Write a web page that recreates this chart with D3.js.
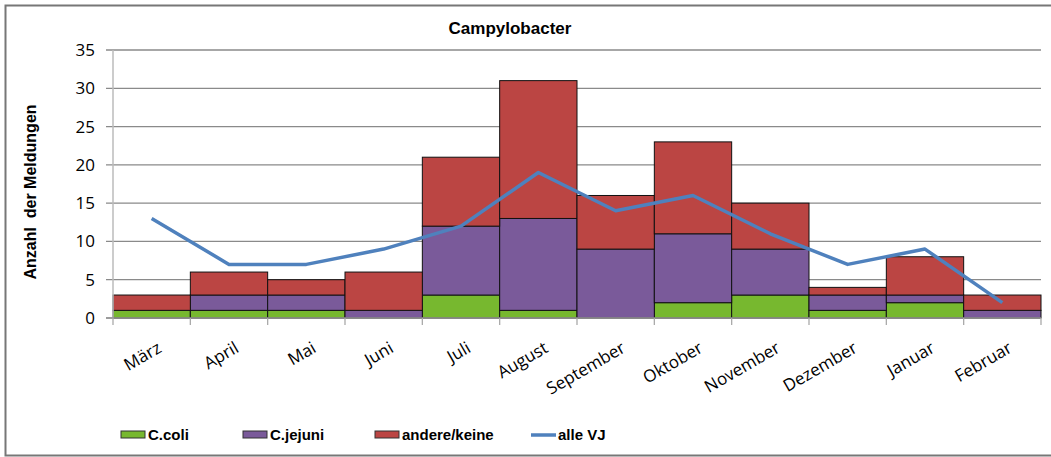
<!DOCTYPE html>
<html>
<head>
<meta charset="utf-8">
<script src="https://cdn.jsdelivr.net/npm/d3@7"></script>
<style>
  body{margin:0;background:#fff;}
  svg text{fill:#000;white-space:pre;}
</style>
</head>
<body>
<div id="container"></div>
<script>
const months=['März','April','Mai','Juni','Juli','August','September','Oktober','November','Dezember','Januar','Februar'];
const coli=[1,1,1,0,3,1,0,2,3,1,2,0];
const jejuni=[0,2,2,1,9,12,9,9,6,2,1,1];
const andere=[2,3,2,5,9,18,7,12,6,1,5,2];
const alleVJ=[13,7,7,9,12,19,14,16,11,7,9,2];
const yTicks=[0,5,10,15,20,25,30,35];

const width=1051, height=457;
const plotLeft=113, plotRight=1041, plotTop=50, plotBottom=318;

const colors={coli:'#77b82f',jejuni:'#7a5a9a',andere:'#bb4543',line:'#4f81bd'};

const svg=d3.select('#container').append('svg')
   .attr('width',width).attr('height',height);

// outer frame
svg.append('rect').attr('x',5.5).attr('y',5.5).attr('width',1060).attr('height',450)
   .attr('fill','none').attr('stroke','#777').attr('stroke-width',2);

const x=d3.scaleBand().domain(months).range([plotLeft,plotRight]).padding(0);
const y=d3.scaleLinear().domain([0,35]).range([plotBottom,plotTop]);

// grid
svg.append('g').selectAll('line').data(yTicks).enter().append('line')
   .attr('x1',plotLeft-7).attr('x2',plotRight)
   .attr('y1',d=>y(d)).attr('y2',d=>y(d))
   .attr('stroke','#8a8a8a').attr('stroke-width',1.3);

// y tick labels
svg.append('g').selectAll('text').data(yTicks).enter().append('text')
   .attr('x',95).attr('y',d=>y(d)).attr('dy','0.35em')
   .attr('text-anchor','end')
   .style('font-family','"Open Sans", sans-serif').style('font-size','17px')
   .text(d=>d);

// stacked bars
const data=months.map((m,i)=>({month:m,coli:coli[i],jejuni:jejuni[i],andere:andere[i]}));
const stack=d3.stack().keys(['coli','jejuni','andere'])(data);

svg.append('g').selectAll('g').data(stack).enter().append('g')
   .attr('fill',s=>colors[s.key])
   .selectAll('rect').data(s=>s).enter().append('rect')
   .attr('x',d=>x(d.data.month))
   .attr('width',x.bandwidth())
   .attr('y',d=>y(d[1]))
   .attr('height',d=>y(d[0])-y(d[1]))
   .attr('stroke',d=>d[1]>d[0]?'#111':'none')
   .attr('stroke-width',1);

// axes lines
svg.append('line').attr('x1',plotLeft).attr('x2',plotLeft).attr('y1',plotTop).attr('y2',plotBottom)
   .attr('stroke','#bbb').attr('stroke-width',1.5);
svg.append('line').attr('x1',plotLeft-7).attr('x2',plotRight).attr('y1',plotBottom).attr('y2',plotBottom)
   .attr('stroke','#999').attr('stroke-width',1.5);
svg.append('g').selectAll('line').data(d3.range(months.length+1)).enter().append('line')
   .attr('x1',i=>plotLeft+i*x.step()).attr('x2',i=>plotLeft+i*x.step())
   .attr('y1',plotBottom).attr('y2',plotBottom+7)
   .attr('stroke','#aaa').attr('stroke-width',1.3);

// line
const line=d3.line().x((d,i)=>x(months[i])+x.bandwidth()/2).y(d=>y(d));
svg.append('path').datum(alleVJ).attr('d',line)
   .attr('fill','none').attr('stroke',colors.line).attr('stroke-width',3.5)
   .attr('stroke-linejoin','round');

// x labels
svg.append('g').selectAll('text').data(months).enter().append('text')
   .attr('transform',m=>`translate(${x(m)+x.bandwidth()/2+5},${plotBottom+23}) rotate(-30)`)
   .attr('text-anchor','end')
   .attr('dy','0.7em')
   .style('font-family','"Open Sans", sans-serif').style('font-size','17px')
   .text(m=>m);

// title
svg.append('text').attr('x',510).attr('y',34).attr('text-anchor','middle')
   .style('font-family','"Liberation Sans", Arial, sans-serif').style('font-weight','bold').style('font-size','17px')
   .text('Campylobacter');

// y axis title
svg.append('text').attr('transform','translate(36,192) rotate(-90)').attr('text-anchor','middle')
   .style('font-family','"Liberation Sans", Arial, sans-serif').style('font-weight','bold').style('font-size','16px')
   .text('Anzahl  der Meldungen');

// legend
const legend=[
  {name:'C.coli',color:colors.coli,x:121,type:'rect'},
  {name:'C.jejuni',color:colors.jejuni,x:243,type:'rect'},
  {name:'andere/keine',color:colors.andere,x:375,type:'rect'},
  {name:'alle VJ',color:colors.line,x:531,type:'line'}
];
const lg=svg.append('g').selectAll('g').data(legend).enter().append('g');
lg.filter(d=>d.type==='rect').append('rect')
   .attr('x',d=>d.x).attr('y',431).attr('width',24).attr('height',7)
   .attr('fill',d=>d.color).attr('stroke','#333').attr('stroke-width',1);
lg.filter(d=>d.type==='line').append('line')
   .attr('x1',d=>d.x).attr('x2',d=>d.x+25).attr('y1',435).attr('y2',435)
   .attr('stroke',d=>d.color).attr('stroke-width',3.5);
lg.append('text').attr('x',d=>d.x+27).attr('y',435).attr('dy','0.35em')
   .style('font-family','"Liberation Sans", Arial, sans-serif')
   .style('font-weight','bold').style('font-size','15px')
   .text(d=>d.name);
</script>
</body>
</html>
